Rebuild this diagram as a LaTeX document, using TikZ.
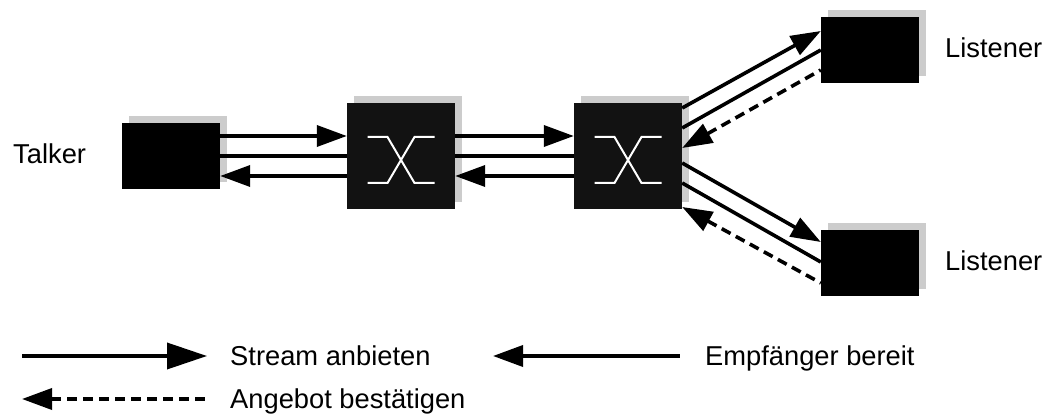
\documentclass[tikz,border=0pt]{standalone}
\usepackage{fontspec}
\setmainfont{Liberation Sans}
\usetikzlibrary{arrows.meta,shadows}
\definecolor{shadowgray}{HTML}{CCCCCC}
\definecolor{switchfill}{HTML}{121212}

\begin{document}
\begin{tikzpicture}[x=1pt, y=-1pt, >={Triangle[length=30pt,width=21pt]},
    font=\fontsize{27.3}{32}\selectfont,
    device/.style={rectangle, fill=black, inner sep=0pt, minimum width=98pt, minimum height=66pt,
      drop shadow={shadow xshift=7pt, shadow yshift=7pt, fill=shadowgray, opacity=1}},
    switchbox/.style={device, fill=switchfill, minimum width=108pt, minimum height=106pt},
    caption/.style={anchor=base west, inner sep=0pt},
    link/.style={line width=3.6pt},
    ack/.style={link, dash pattern=on 10pt off 6pt},
    xbar/.style={white, line width=2pt}]
  \useasboundingbox (0,0) rectangle (1053,419);

  % end stations and bridges
  \node[device] (talker) at (171,156) {};
  \node[switchbox] (sw1) at (401,156) {};
  \node[switchbox] (sw2) at (628,156) {};
  \node[device] (lis1) at (870,50) {};
  \node[device] (lis2) at (870,263) {};
  \foreach \s in {sw1,sw2} {
    \draw[xbar] ([shift={(-33.5,-19)}]\s.center) -- ++(20,0) -- ++(27,46) -- ++(20,0);
    \draw[xbar] ([shift={(-33.5,27)}]\s.center) -- ++(20,0) -- ++(27,-46) -- ++(20,0);
  }
  \node[caption] (tlabel) at (13,164) {Talker};
  \node[caption] (l1label) at (945,58) {Listener};
  \node[caption] (l2label) at (945,271) {Listener};

  % straight links: offer, ready, ready
  \foreach \a/\b in {talker/sw1, sw1/sw2} {
    \draw[link,->] ([yshift=20pt]\a.east) -- ([yshift=20pt]\b.west);
    \draw[link] (\a.east) -- (\b.west);
    \draw[link,<-] ([yshift=-20pt]\a.east) -- ([yshift=-20pt]\b.west);
  }

  % fan out to the listeners
  \draw[link,->] ([yshift=48pt]sw2.east) -- ([yshift=19pt]lis1.west);
  \draw[link] ([yshift=28pt]sw2.east) -- (lis1.west);
  \draw[ack,<-] ([yshift=8pt]sw2.east) -- ([yshift=-20pt]lis1.west);
  \draw[link,->] ([yshift=-7pt]sw2.east) -- ([yshift=21pt]lis2.west);
  \draw[link] ([yshift=-27pt]sw2.east) -- ([yshift=1pt]lis2.west);
  \draw[ack,<-] ([yshift=-51pt]sw2.east) -- ([yshift=-20pt]lis2.west);

  % legend
  \coordinate (k1a) at (22,356);  \coordinate (k1b) at (207,356);
  \coordinate (k2a) at (493,356); \coordinate (k2b) at (680,356);
  \coordinate (k3a) at (22,399);  \coordinate (k3b) at (207,399);
  \draw[link,->,>={Triangle[length=40pt,width=26pt]}] (k1a) -- (k1b);
  \draw[link,<-] (k2a) -- (k2b);
  \draw[ack,<-] (k3a) -- (k3b);
  \node[caption] (offer) at (230,366) {Stream anbieten};
  \node[caption] (ready) at (705,366) {Empfänger bereit};
  \node[caption] (confirm) at (230,409) {Angebot bestätigen};
\end{tikzpicture}
\end{document}
